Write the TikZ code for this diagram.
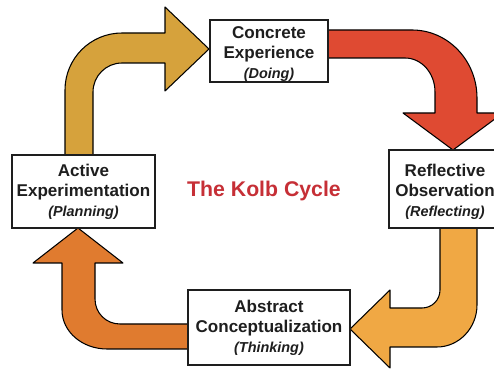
\documentclass[tikz,border=0pt]{standalone}
\usepackage{fontspec}
\setmainfont{Liberation Sans}
\begin{document}
\definecolor{goldA}{HTML}{D6A23C}
\definecolor{redA}{HTML}{DF4A32}
\definecolor{amberA}{HTML}{F0A844}
\definecolor{orangeA}{HTML}{E07B2F}
\definecolor{titleRed}{HTML}{C62F36}
\definecolor{inkA}{HTML}{1E1E1E}
\newcommand{\subline}[1]{{\fontsize{8.2}{11.4}\selectfont\itshape #1}}
% a taller first line pushes the centred text block slightly down in its box
\newcommand{\topstrut}{\rule{0pt}{10pt}}
\begin{tikzpicture}[x=0.02cm, y=-0.02cm,
  stagebox/.style={draw=inkA, line width=0.75pt, fill=white, rectangle,
    inner sep=0pt, align=center, text=inkA,
    font=\fontsize{9.7}{11.4}\selectfont\bfseries},
  bentarrow/.style={draw=black, line width=0.6pt, line join=round}]
\clip (0,0) rectangle (494,374);

% curved arrows between the four stages
\draw[bentarrow, fill=goldA]
  (65,158) -- (65,90) .. controls (65,58.5) and (90.5,33) .. (122,33)
  -- (165,33) -- (165,7) -- (209,49) -- (165,91) -- (165,63) -- (122,63)
  .. controls (106,63) and (93,76) .. (93,92) -- (93,158) -- cycle;

\draw[bentarrow, fill=redA]
  (325,30) -- (412,30) .. controls (448,30) and (477,60.5) .. (477,98)
  -- (477,113) -- (503,113) -- (453,150) -- (403,113) -- (435,113)
  -- (435,92) .. controls (435,73) and (421.5,58) .. (405,58) -- (325,58) -- cycle;

\draw[bentarrow, fill=amberA]
  (440,226) -- (440,290) .. controls (440,300) and (432,308) .. (422,308)
  -- (390,308) -- (390,290) -- (350,329) -- (390,368) -- (390,347) -- (437,347)
  .. controls (459,347) and (477,328) .. (477,305) -- (477,226) -- cycle;

\draw[bentarrow, fill=orangeA]
  (190,324) -- (120,324) .. controls (106,324) and (95,313) .. (95,299)
  -- (95,263) -- (123,263) -- (78,228) -- (33,263) -- (62,263) -- (62,310)
  .. controls (62,331.5) and (82,349) .. (107,349) -- (190,349) -- cycle;

% stage boxes
\node[stagebox, minimum width=118*0.02cm, minimum height=62*0.02cm] (ce) at (269,51)
  {\topstrut Concrete\\Experience\\\subline{(Doing)}};
\node[stagebox, minimum width=112*0.02cm, minimum height=78*0.02cm] (ro) at (445,189)
  {\topstrut Reflective\\Observation\\\subline{(Reflecting)}};
\node[stagebox, minimum width=162*0.02cm, minimum height=75*0.02cm] (ac) at (269,327.5)
  {Abstract\\Conceptualization\\\subline{(Thinking)}};
\node[stagebox, minimum width=143*0.02cm, minimum height=73*0.02cm] (ae) at (83.5,191.5)
  {Active\\Experimentation\\\subline{(Planning)}};

% title
\node[text=titleRed, font=\fontsize{12.1}{14}\selectfont\bfseries] (title) at (264,191)
  {The Kolb Cycle};
\end{tikzpicture}
\end{document}
